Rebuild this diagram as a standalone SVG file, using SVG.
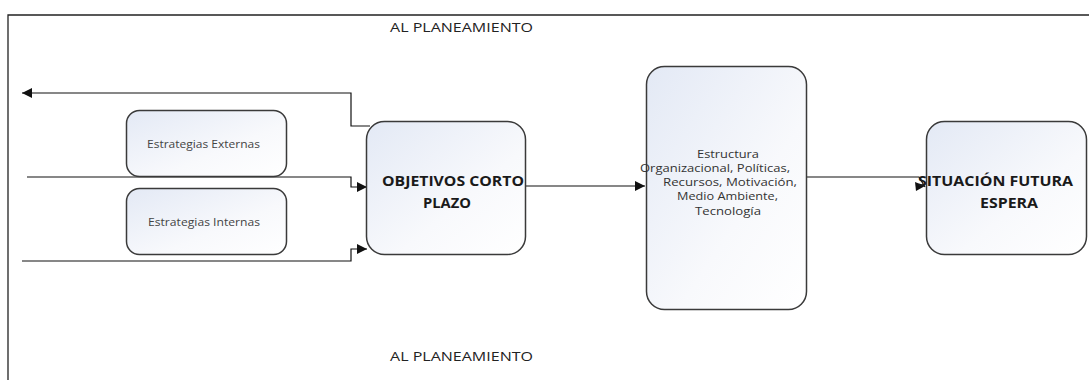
<svg xmlns="http://www.w3.org/2000/svg" width="1089" height="380" viewBox="0 0 1089 380">
  <style>
    .box { stroke: #3a3a3a; stroke-width: 1.5; fill: url(#boxFill); }
    .wire { fill: none; stroke: #111; stroke-width: 1.2; }
    .frame { fill: none; stroke: #222; stroke-width: 1.3; }
    .lbl { font-family: "Open Sans", Lato, "Liberation Sans", sans-serif; fill: #222; }
    .small { font-size: 10px; fill: #444; }
    .mid { font-size: 10.5px; fill: #333; }
    .head { font-size: 14.5px; font-weight: bold; fill: #1a1a1a; }
    .title { font-size: 12.5px; fill: #222; }
  </style>
  <defs>
    <linearGradient id="boxFill" x1="0" y1="0" x2="1" y2="1">
      <stop offset="0" stop-color="#e3e9f5"/>
      <stop offset="0.6" stop-color="#f8f9fc"/>
      <stop offset="1" stop-color="#ffffff"/>
    </linearGradient>
    <marker id="arrow" viewBox="0 0 10 10" refX="10" refY="5" markerWidth="10" markerHeight="10" markerUnits="userSpaceOnUse" orient="auto">
      <path d="M0,0 L10,5 L0,10 Z" fill="#111"/>
    </marker>
  </defs>

  <!-- outer frame (top and left edges) -->
  <path class="frame" d="M8,380 V15 H1089"/>

  <!-- headings above and below -->
  <text class="lbl title" x="390" y="32" textLength="143" lengthAdjust="spacingAndGlyphs">AL PLANEAMIENTO</text>
  <text class="lbl title" x="390" y="361" textLength="143" lengthAdjust="spacingAndGlyphs">AL PLANEAMIENTO</text>

  <!-- connectors -->
  <g id="connectors">
    <path class="wire" d="M370,126 H351 V93 H22" marker-end="url(#arrow)"/>
    <path class="wire" d="M27,177 H351 V187 H367" marker-end="url(#arrow)"/>
    <path class="wire" d="M22,261 H351 V249 H367" marker-end="url(#arrow)"/>
    <path class="wire" d="M525,186 H645" marker-end="url(#arrow)"/>
    <path class="wire" d="M793,177 H919 L925,187" />
    <path d="M915,182 L925,186 L916,191 Z" fill="#111"/>
  </g>

  <g id="estrategias-externas">
    <rect class="box" x="126.5" y="110.5" width="160" height="66" rx="13"/>
    <text class="lbl small" x="147" y="148" textLength="113" lengthAdjust="spacingAndGlyphs">Estrategias Externas</text>
  </g>

  <g id="estrategias-internas">
    <rect class="box" x="126.5" y="188.5" width="160" height="66" rx="13"/>
    <text class="lbl small" x="148" y="226" textLength="112" lengthAdjust="spacingAndGlyphs">Estrategias Internas</text>
  </g>

  <g id="objetivos">
    <rect class="box" x="366.5" y="121.5" width="159" height="133" rx="18"/>
    <text class="lbl head" x="382" y="186" textLength="142" lengthAdjust="spacingAndGlyphs">OBJETIVOS CORTO</text>
    <text class="lbl head" x="423" y="208" textLength="48" lengthAdjust="spacingAndGlyphs">PLAZO</text>
  </g>

  <g id="estructura">
    <rect class="box" x="646.5" y="66.5" width="160" height="243" rx="18"/>
    <text class="lbl mid" x="697" y="158" textLength="62" lengthAdjust="spacingAndGlyphs">Estructura</text>
    <text class="lbl mid" x="640" y="172" textLength="150" lengthAdjust="spacingAndGlyphs">Organizacional, Políticas,</text>
    <text class="lbl mid" x="663" y="186" textLength="134" lengthAdjust="spacingAndGlyphs">Recursos, Motivación,</text>
    <text class="lbl mid" x="677" y="200" textLength="101" lengthAdjust="spacingAndGlyphs">Medio Ambiente,</text>
    <text class="lbl mid" x="695" y="215" textLength="66" lengthAdjust="spacingAndGlyphs">Tecnología</text>
  </g>

  <g id="situacion">
    <rect class="box" x="926.5" y="121.5" width="160" height="133" rx="18"/>
    <text class="lbl head" x="918" y="186" textLength="155" lengthAdjust="spacingAndGlyphs">SITUACIÓN FUTURA</text>
    <text class="lbl head" x="980" y="208" textLength="58" lengthAdjust="spacingAndGlyphs">ESPERA</text>
  </g>
</svg>
